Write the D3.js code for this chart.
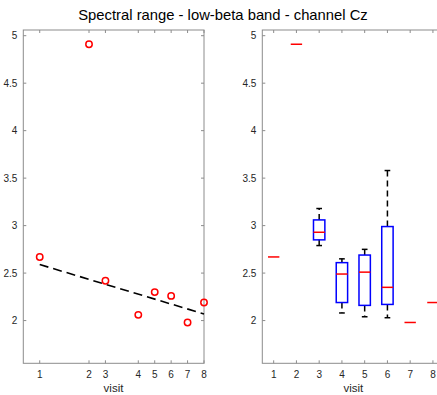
<!DOCTYPE html>
<html lang="en">
<head>
<meta charset="UTF-8">
<title>Spectral range - low-beta band - channel Cz</title>
<style>
    body { margin: 0; padding: 0; background: #fff; }
    svg { display: block; font-family: "Liberation Sans", Arial, sans-serif; }
    .tick-label { font-size: 10px; fill: #262626; }
    .frame { fill: none; stroke: #8c8c8c; stroke-width: 1; }
    .tick { stroke: #8c8c8c; stroke-width: 1; }
</style>
</head>
<body>
<svg id="chart" width="437" height="395"></svg>
<script src="https://d3js.org/d3.v7.min.js"></script>
<script>
    // visit numbers and when they happened (time units, used on the left panel)
    var visits = [1, 2, 3, 4, 5, 6, 7, 8];
    var visitTime = [1, 4, 5, 7, 8, 9, 10, 11];
    var yTicks = [2, 2.5, 3, 3.5, 4, 4.5, 5];

    // per-visit mean spectral range
    var spectralRange = [2.67, 4.91, 2.42, 2.06, 2.30, 2.26, 1.98, 2.19];

    // dashed trend line, value at first visit and at last visit
    var trendTime = [1, 11];
    var trendValue = [2.59, 2.07];

    // box plot stats per visit (single-value visits collapse to the median)
    var boxMedian = [2.67, 4.91, 2.93, 2.49, 2.51, 2.35, 1.98, 2.19];
    var boxQ1     = [2.67, 4.91, 2.85, 2.19, 2.16, 2.17, 1.98, 2.19];
    var boxQ3     = [2.67, 4.91, 3.06, 2.61, 2.69, 2.99, 1.98, 2.19];
    var whiskLo   = [2.67, 4.91, 2.79, 2.08, 2.04, 2.03, 1.98, 2.19];
    var whiskHi   = [2.67, 4.91, 3.18, 2.65, 2.75, 3.58, 1.98, 2.19];

    var svg = d3.select("#chart");
    var plotTop = 30, plotBottom = 363.3;

    svg.append("text")
        .attr("x", 223).attr("y", 20)
        .attr("text-anchor", "middle")
        .style("font-size", "14.8px")
        .style("fill", "#000")
        .text("Spectral range - low-beta band - channel Cz");

    var y = d3.scaleLinear().domain([1.55, 5.06]).range([plotBottom, plotTop]);

    function drawFrame(g, x, xTicks, tickLabels, left, right, labelX) {
        var t = 3;
        g.append("rect").attr("class", "frame")
            .attr("x", left).attr("y", plotTop)
            .attr("width", right - left).attr("height", plotBottom - plotTop);

        xTicks.forEach(function (v, i) {
            var px = x(v);
            g.append("line").attr("class", "tick")
                .attr("x1", px).attr("x2", px).attr("y1", plotBottom).attr("y2", plotBottom - t);
            g.append("line").attr("class", "tick")
                .attr("x1", px).attr("x2", px).attr("y1", plotTop).attr("y2", plotTop + t);
            g.append("text").attr("class", "tick-label")
                .attr("x", px).attr("y", plotBottom + 15)
                .attr("text-anchor", "middle")
                .text(tickLabels[i]);
        });

        yTicks.forEach(function (v) {
            var py = y(v);
            g.append("line").attr("class", "tick")
                .attr("x1", left).attr("x2", left + t).attr("y1", py).attr("y2", py);
            g.append("line").attr("class", "tick")
                .attr("x1", right).attr("x2", right - t).attr("y1", py).attr("y2", py);
            g.append("text").attr("class", "tick-label")
                .attr("x", left - 6).attr("y", py + 3.5)
                .attr("text-anchor", "end")
                .text(v);
        });

        g.append("text")
            .attr("x", labelX)
            .attr("y", plotBottom + 29)
            .attr("text-anchor", "middle")
            .style("font-size", "11.5px")
            .style("fill", "#262626")
            .text("visit");
    }

    // ---- left panel: scatter over time with trend ----
    var xl = d3.scaleLinear().domain([0, 11]).range([23.3, 204]);
    var gl = svg.append("g");
    drawFrame(gl, xl, visitTime, visits, 23.3, 204, 113.5);

    gl.append("line")
        .attr("x1", xl(trendTime[0])).attr("y1", y(trendValue[0]))
        .attr("x2", xl(trendTime[1])).attr("y2", y(trendValue[1]))
        .attr("stroke", "#000")
        .attr("stroke-width", 1.6)
        .attr("stroke-dasharray", "9,5");

    gl.selectAll("circle")
        .data(spectralRange)
        .enter().append("circle")
        .attr("cx", function (d, i) { return xl(visitTime[i]); })
        .attr("cy", function (d) { return y(d); })
        .attr("r", 3.2)
        .attr("fill", "none")
        .attr("stroke", "#ff0000")
        .attr("stroke-width", 1.5);

    // ---- right panel: box plots per visit ----
    var xr = d3.scaleLinear().domain([0.5, 8.5]).range([262.3, 444.3]);
    var gr = svg.append("g");
    drawFrame(gr, xr, visits, visits, 262.3, 444.3, 353.3);

    var halfBox = xr(1.25) - xr(1);
    var halfCap = halfBox / 2;

    visits.forEach(function (v, i) {
        var cx = xr(v);
        if (boxQ3[i] > boxQ1[i]) {
            gr.append("line")
                .attr("x1", cx).attr("x2", cx)
                .attr("y1", y(boxQ3[i])).attr("y2", y(whiskHi[i]))
                .attr("stroke", "#000").attr("stroke-width", 1.5)
                .attr("stroke-dasharray", "6,4");
            gr.append("line")
                .attr("x1", cx).attr("x2", cx)
                .attr("y1", y(boxQ1[i])).attr("y2", y(whiskLo[i]))
                .attr("stroke", "#000").attr("stroke-width", 1.5)
                .attr("stroke-dasharray", "6,4");
            [whiskLo[i], whiskHi[i]].forEach(function (w) {
                gr.append("line")
                    .attr("x1", cx - halfCap).attr("x2", cx + halfCap)
                    .attr("y1", y(w)).attr("y2", y(w))
                    .attr("stroke", "#000").attr("stroke-width", 1.5);
            });
            gr.append("rect")
                .attr("x", cx - halfBox).attr("y", y(boxQ3[i]))
                .attr("width", 2 * halfBox).attr("height", y(boxQ1[i]) - y(boxQ3[i]))
                .attr("fill", "none")
                .attr("stroke", "#0000ff").attr("stroke-width", 1.5);
        }
        gr.append("line")
            .attr("x1", cx - halfBox).attr("x2", cx + halfBox)
            .attr("y1", y(boxMedian[i])).attr("y2", y(boxMedian[i]))
            .attr("stroke", "#ff0000").attr("stroke-width", 1.5);
    });
</script>
</body>
</html>
